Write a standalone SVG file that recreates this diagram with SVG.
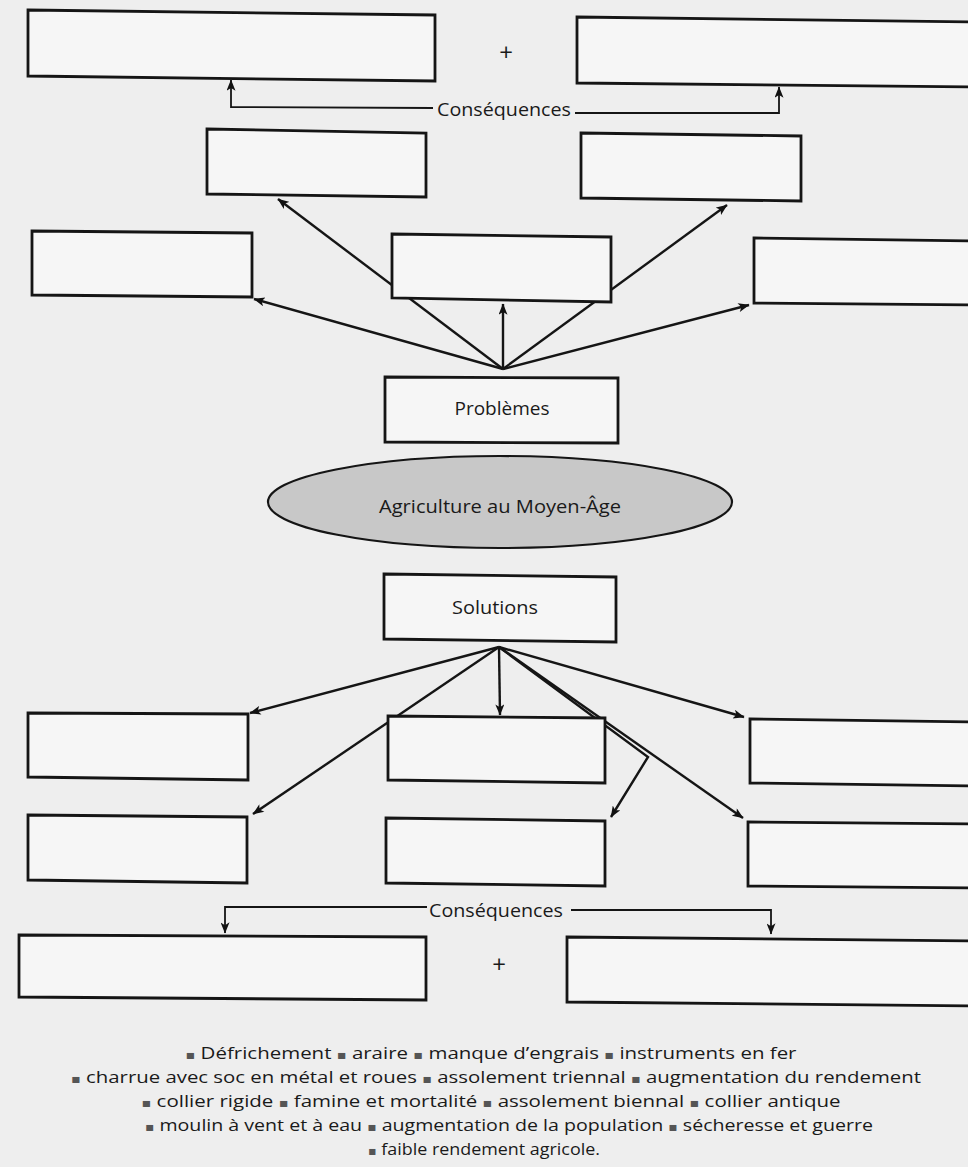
<svg xmlns="http://www.w3.org/2000/svg" width="968" height="1167" viewBox="0 0 968 1167">
<defs>
<marker id="ah" viewBox="0 0 10 8" refX="9.5" refY="4" markerWidth="12" markerHeight="9" markerUnits="userSpaceOnUse" orient="auto">
<path d="M0,0 L10,4 L0,8 L2.5,4 z" fill="#111"/>
</marker>
<style>
.box{fill:#f6f6f6;stroke:#151515;stroke-width:2.8;stroke-linejoin:miter}
.ell{fill:#c8c8c8;stroke:#151515;stroke-width:2.2}
.c{fill:none;stroke:#151515;stroke-width:2.4}
.cb{fill:none;stroke:#151515;stroke-width:1.8}
.t{font-family:"Open Sans","Noto Sans","DejaVu Sans",sans-serif;font-size:19px;fill:#1a1a1a;text-anchor:middle}
.p{font-family:"Open Sans","Noto Sans","DejaVu Sans",sans-serif;font-size:24px;fill:#1a1a1a;text-anchor:middle}
.lg{font-family:"Open Sans","Noto Sans","DejaVu Sans",sans-serif;font-size:17px;fill:#1a1a1a;text-anchor:middle}
.bul{fill:#555;font-size:12px}
</style>
</defs>
<rect x="0" y="0" width="968" height="1167" fill="#eeeeee"/>

<g id="connectors">
<polyline class="cb" points="433,108 231,107 231,80" marker-end="url(#ah)"/>
<polyline class="cb" points="575,113 779,113 779,87" marker-end="url(#ah)"/>
<line class="c" x1="503" y1="369" x2="278" y2="199" marker-end="url(#ah)"/>
<line class="c" x1="503" y1="369" x2="727" y2="205" marker-end="url(#ah)"/>
<line class="c" x1="503" y1="369" x2="254" y2="299" marker-end="url(#ah)"/>
<line class="c" x1="503" y1="369" x2="749" y2="305" marker-end="url(#ah)"/>
<line class="c" x1="503" y1="369" x2="503" y2="304" marker-end="url(#ah)"/>
<line class="c" x1="499" y1="647" x2="250" y2="713" marker-end="url(#ah)"/>
<line class="c" x1="499" y1="647" x2="253" y2="814" marker-end="url(#ah)"/>
<line class="c" x1="499" y1="647" x2="500" y2="715" marker-end="url(#ah)"/>
<line class="c" x1="499" y1="647" x2="744" y2="717" marker-end="url(#ah)"/>
<line class="c" x1="499" y1="647" x2="743" y2="818" marker-end="url(#ah)"/>
<polyline class="c" points="499,647 648,757 611,817" marker-end="url(#ah)"/>
<polyline class="cb" points="427,907 225,907 225,933" marker-end="url(#ah)"/>
<polyline class="cb" points="571,910 771,910 771,934" marker-end="url(#ah)"/>
</g>

<g id="top-left"><polygon class="box" points="28,10 435,15 435,81 28,76"/></g>
<g id="top-plus"><text class="p" x="506" y="61">+</text></g>
<g id="top-right"><polygon class="box" points="577,17 972,22 972,87 577,83"/></g>
<g id="top-consequences"><text class="t" x="504" y="116" textLength="134" lengthAdjust="spacingAndGlyphs">Conséquences</text></g>

<g id="prob-a"><polygon class="box" points="207,129 426,133 426,197 207,194"/></g>
<g id="prob-b"><polygon class="box" points="581,133 801,136 801,201 581,198"/></g>
<g id="prob-c"><polygon class="box" points="32,231 252,233 252,297 32,295"/></g>
<g id="prob-d"><polygon class="box" points="392,234 611,237 611,302 392,298"/></g>
<g id="prob-e"><polygon class="box" points="754,238 972,241 972,305 754,303"/></g>

<g id="problemes"><polygon class="box" points="385,377 618,378 618,443 385,442"/><text class="t" x="502" y="415" textLength="95" lengthAdjust="spacingAndGlyphs">Problèmes</text></g>

<g id="agriculture"><ellipse class="ell" cx="500" cy="502" rx="232" ry="46"/><text class="t" x="500" y="513" textLength="242" lengthAdjust="spacingAndGlyphs">Agriculture au Moyen-Âge</text></g>

<g id="solutions"><polygon class="box" points="384,574 616,577 616,642 384,639"/><text class="t" x="495" y="614" textLength="86" lengthAdjust="spacingAndGlyphs">Solutions</text></g>

<g id="sol-l1"><polygon class="box" points="28,713 248,714 248,780 28,777"/></g>
<g id="sol-m1"><polygon class="box" points="388,716 605,718 605,783 388,780"/></g>
<g id="sol-r1"><polygon class="box" points="750,719 972,722 972,786 750,783"/></g>
<g id="sol-l2"><polygon class="box" points="28,815 247,817 247,883 28,880"/></g>
<g id="sol-m2"><polygon class="box" points="386,818 605,821 605,886 386,883"/></g>
<g id="sol-r2"><polygon class="box" points="748,822 972,824 972,888 748,886"/></g>

<g id="bottom-consequences"><text class="t" x="496" y="917" textLength="134" lengthAdjust="spacingAndGlyphs">Conséquences</text></g>
<g id="bottom-left"><polygon class="box" points="19,935 426,937 426,1000 19,997"/></g>
<g id="bottom-plus"><text class="p" x="499" y="973">+</text></g>
<g id="bottom-right"><polygon class="box" points="567,937 972,941 972,1006 567,1002"/></g>

<g id="legend">
<text class="lg" x="491" y="1059" textLength="611" lengthAdjust="spacingAndGlyphs"><tspan class="bul">▪</tspan> Défrichement <tspan class="bul">▪</tspan> araire <tspan class="bul">▪</tspan> manque d’engrais <tspan class="bul">▪</tspan> instruments en fer</text>
<text class="lg" x="496" y="1083" textLength="850" lengthAdjust="spacingAndGlyphs"><tspan class="bul">▪</tspan> charrue avec soc en métal et roues <tspan class="bul">▪</tspan> assolement triennal <tspan class="bul">▪</tspan> augmentation du rendement</text>
<text class="lg" x="491" y="1107" textLength="699" lengthAdjust="spacingAndGlyphs"><tspan class="bul">▪</tspan> collier rigide <tspan class="bul">▪</tspan> famine et mortalité <tspan class="bul">▪</tspan> assolement biennal <tspan class="bul">▪</tspan> collier antique</text>
<text class="lg" x="509" y="1131" textLength="728" lengthAdjust="spacingAndGlyphs"><tspan class="bul">▪</tspan> moulin à vent et à eau <tspan class="bul">▪</tspan> augmentation de la population <tspan class="bul">▪</tspan> sécheresse et guerre</text>
<text class="lg" x="484" y="1155" textLength="232" lengthAdjust="spacingAndGlyphs"><tspan class="bul">▪</tspan> faible rendement agricole.</text>
</g>
</svg>
